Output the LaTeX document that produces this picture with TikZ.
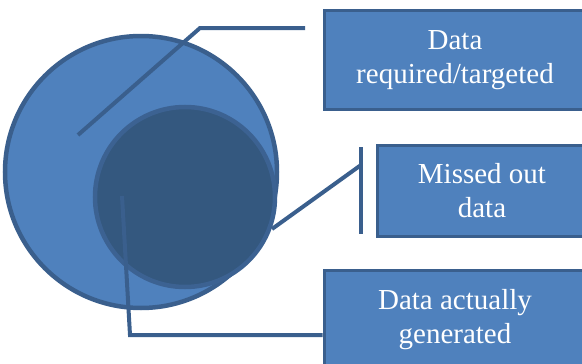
\documentclass[tikz,border=0pt]{standalone}
\usepackage{fontspec}
\setmainfont{Liberation Serif}
\definecolor{lightblue}{HTML}{4F81BD}
\definecolor{edgeblue}{HTML}{3A5F8D}
\definecolor{darkblue}{HTML}{34587F}
\tikzset{
  box/.style={draw=edgeblue, line width=3pt, fill=lightblue, text=white,
    align=center, font=\fontsize{29}{34}\selectfont, inner sep=0pt},
  leader/.style={draw=edgeblue, line width=4pt}
}

\begin{document}
\begin{tikzpicture}[x=1pt, y=-1pt]
  \useasboundingbox (0,0) rectangle (582,364);
  % circles
  \draw[draw=edgeblue, line width=4.5pt, fill=lightblue] (141,172) circle [radius=136];
  \draw[draw=edgeblue!90!lightblue, line width=4.5pt, fill=darkblue] (185,197) circle [radius=90];
  % labels
  \node[box, minimum width=262pt, minimum height=99pt] (target) at (455,60) {Data\\required/targeted};
  \node[box, minimum width=210pt, minimum height=91pt] (missed) at (482,190.5) {Missed out\\data};
  \node[box, minimum width=262pt, minimum height=100pt] (actual) at (455,320) {Data actually\\generated};
  % leader lines
  \coordinate (t0) at (78,135);
  \coordinate (t1) at (200,28);
  \coordinate (t2) at (305,28);
  \draw[leader] (t0) -- (t1) -- (t2);
  \coordinate (m0) at (272,229);
  \coordinate (m1) at (361,165);
  \coordinate (mtop) at (361,147);
  \coordinate (mbot) at (361,234);
  \draw[leader] (m0) -- (m1);
  \draw[leader] (mtop) -- (mbot);
  \coordinate (a0) at (122,196);
  \coordinate (a1) at (130,335);
  \draw[leader] (a0) -- (a1) -- (a1 -| actual.west);
\end{tikzpicture}
\end{document}
